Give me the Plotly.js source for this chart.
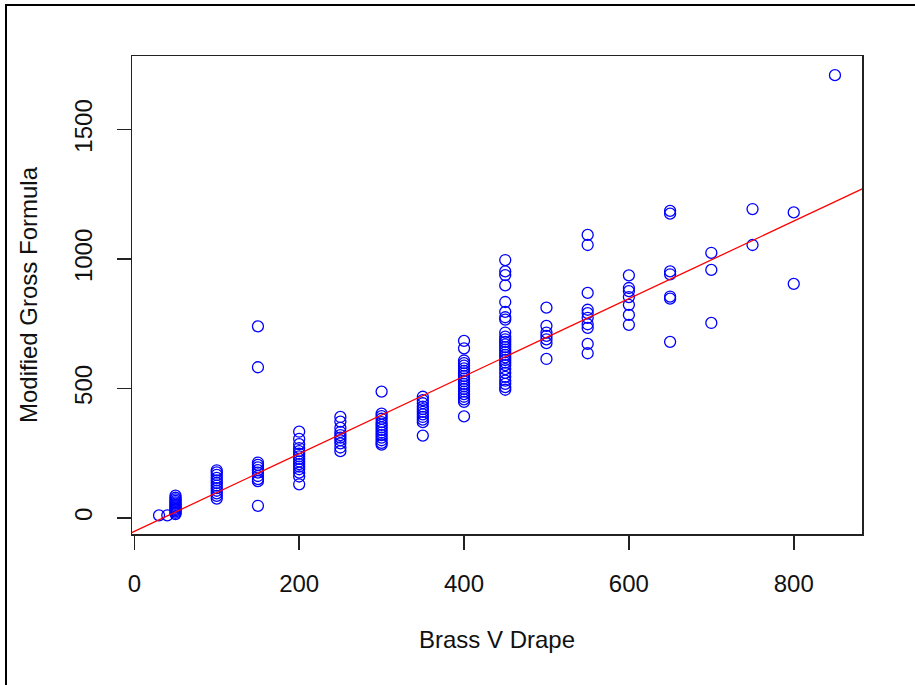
<!DOCTYPE html>
<html>
<head>
<meta charset="utf-8">
<script src="https://cdn.plot.ly/plotly-3.0.1.min.js"></script>
<style>
  html, body { margin: 0; padding: 0; background: #fff; }
  #chart { width: 915px; height: 685px; position: relative; }
  #frame { position: absolute; left: 5px; top: 4px; width: 960px; height: 720px;
           border-left: 2px solid #000; border-top: 2px solid #000; pointer-events: none; }
</style>
</head>
<body>
<div id="chart"></div>
<div id="frame"></div>
<script>
// Brass V Drape (x) and Modified Gross Formula (y)
const brassV = [
  30, 40,
  50, 50, 50, 50, 50, 50, 50, 50, 50, 50, 50, 50, 50, 50,
  100, 100, 100, 100, 100, 100, 100, 100, 100, 100, 100, 100,
  150, 150, 150, 150, 150, 150, 150, 150, 150, 150, 150,
  200, 200, 200, 200, 200, 200, 200, 200, 200, 200, 200, 200, 200, 200, 200,
  250, 250, 250, 250, 250, 250, 250, 250, 250, 250,
  300, 300, 300, 300, 300, 300, 300, 300, 300, 300, 300, 300, 300, 300,
  350, 350, 350, 350, 350, 350, 350, 350, 350, 350, 350,
  400, 400, 400, 400, 400, 400, 400, 400, 400, 400, 400, 400, 400, 400, 400, 400, 400, 400, 400, 400,
  450, 450, 450, 450, 450, 450, 450, 450, 450, 450, 450, 450, 450, 450, 450, 450, 450, 450, 450, 450, 450, 450, 450, 450, 450, 450, 450, 450,
  500, 500, 500, 500, 500, 500, 500,
  550, 550, 550, 550, 550, 550, 550, 550, 550, 550,
  600, 600, 600, 600, 600, 600, 600,
  650, 650, 650, 650, 650, 650, 650,
  700, 700, 700,
  750, 750,
  800, 800,
  850
];
const grossFormula = [
  10, 10,
  86, 78, 72, 66, 60, 55, 50, 45, 40, 35, 30, 25, 20, 15,
  184, 176, 166, 155, 145, 135, 125, 115, 105, 95, 85, 75,
  740, 582, 214, 205, 195, 185, 175, 162, 150, 142, 47,
  333, 305, 285, 270, 258, 248, 238, 228, 218, 208, 198, 188, 175, 160, 130,
  390, 372, 348, 332, 320, 310, 300, 288, 272, 258,
  488, 403, 393, 383, 370, 360, 350, 340, 330, 320, 310, 300, 290, 283,
  468, 455, 443, 430, 420, 410, 400, 390, 380, 370, 318,
  684, 655, 608, 598, 588, 578, 568, 558, 548, 538, 528, 518, 508, 498, 488, 478, 468, 458, 448, 392,
  996, 952, 938, 898, 834, 796, 775, 766, 716, 700, 690, 680, 670, 660, 650, 640, 630, 620, 610, 600, 590, 575, 560, 545, 530, 518, 505, 495,
  812, 742, 716, 703, 690, 675, 614,
  1093, 1054, 869, 804, 791, 773, 748, 734, 672, 636,
  937, 888, 876, 853, 823, 784, 746,
  1186, 1175, 952, 941, 855, 847, 680,
  1024, 958, 753,
  1193, 1054,
  1180, 904,
  1710
];
// fitted line (intercept, slope)
const fitIntercept = -52;
const fitSlope = 1.498;
const xTicks = [0, 200, 400, 600, 800];
const yTicks = [0, 500, 1000, 1500];
const xTitle = 'Brass V Drape';
const yTitle = 'Modified Gross Formula';

const lineX = [-50, 950];
const lineY = lineX.map(v => fitIntercept + fitSlope * v);

const font = 'Liberation Sans, Arial, sans-serif';

const traces = [
  {
    type: 'scatter', mode: 'markers', x: brassV, y: grossFormula,
    marker: { symbol: 'circle-open', size: 11, color: '#0000FF', line: { width: 1.3, color: '#0000FF' } },
    hoverinfo: 'x+y', showlegend: false
  },
  {
    type: 'scatter', mode: 'lines', x: lineX, y: lineY,
    line: { color: '#FF0000', width: 1.3 }, hoverinfo: 'skip', showlegend: false
  }
];

const layout = {
  width: 915, height: 685,
  margin: { l: 132, r: 53, t: 56, b: 151 },
  paper_bgcolor: '#fff', plot_bgcolor: '#fff',
  showlegend: false,
  font: { family: font, color: '#111', size: 20 },
  xaxis: {
    range: [-2.8, 882.8], tickvals: xTicks, ticktext: xTicks.map(String),
    ticks: 'outside', ticklen: 14, tickwidth: 1.5, tickcolor: '#222',
    showline: true, linecolor: '#222', linewidth: 1.5, mirror: true,
    showgrid: false, zeroline: false,
    tickfont: { family: font, size: 24, color: '#111' },
    ticklabelstandoff: 14,
    title: { text: xTitle, font: { family: font, size: 24, color: '#111' }, standoff: 35 }
  },
  yaxis: {
    range: [-62, 1784], tickvals: yTicks, ticktext: yTicks.map(String),
    ticks: 'outside', ticklen: 14, tickwidth: 1.5, tickcolor: '#222',
    showline: true, linecolor: '#222', linewidth: 1.5, mirror: true,
    showgrid: false, zeroline: false, tickangle: -90,
    tickfont: { family: font, size: 24, color: '#111' },
    ticklabelstandoff: 15,
    title: { text: yTitle, font: { family: font, size: 24, color: '#111' }, standoff: 25 }
  }
};

Plotly.newPlot('chart', traces, layout, { displayModeBar: false, staticPlot: true });
</script>
</body>
</html>
